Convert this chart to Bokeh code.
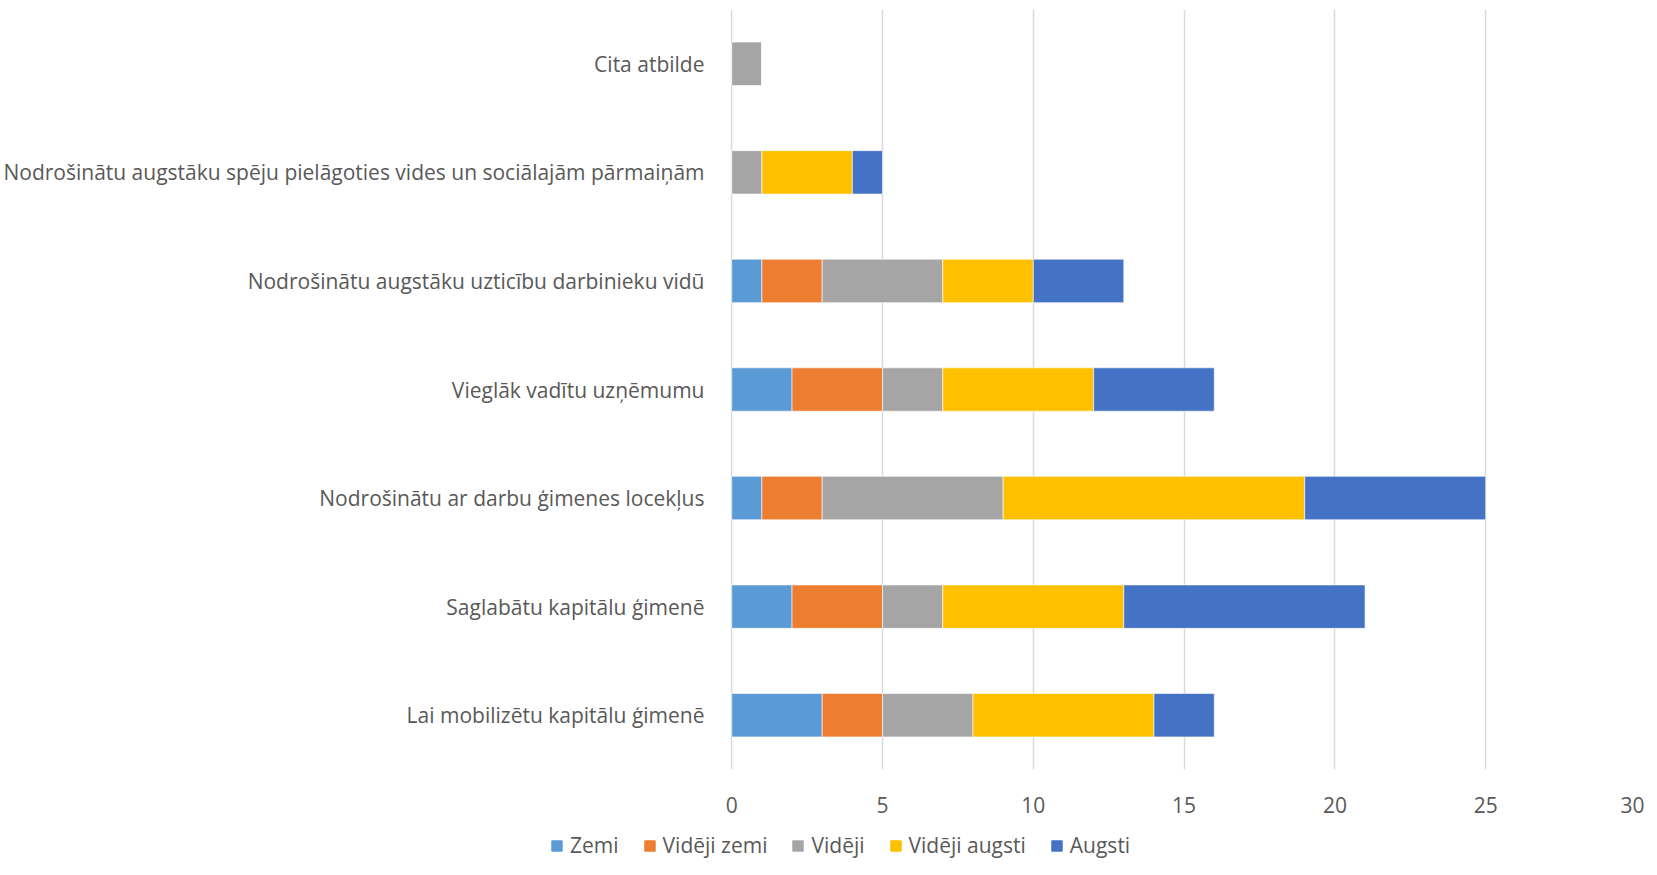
from bokeh.plotting import figure
from bokeh.models import ColumnDataSource, Legend, LegendItem, Range1d
from bokeh.layouts import column
from bokeh.embed import file_html
from bokeh.resources import INLINE

categories = [
    "Lai mobilizētu kapitālu ģimenē",
    "Saglabātu kapitālu ģimenē",
    "Nodrošinātu ar darbu ģimenes locekļus",
    "Vieglāk vadītu uzņēmumu",
    "Nodrošinātu augstāku uzticību darbinieku vidū",
    "Nodrošinātu augstāku spēju pielāgoties vides un sociālajām pārmaiņām",
    "Cita atbilde",
]
zemi = [3, 2, 1, 2, 1, 0, 0]
videji_zemi = [2, 3, 2, 3, 2, 0, 0]
videji = [3, 2, 6, 2, 4, 1, 1]
videji_augsti = [6, 6, 10, 5, 3, 3, 0]
augsti = [2, 8, 6, 4, 3, 1, 0]

series_names = ["Zemi", "Vidēji zemi", "Vidēji", "Vidēji augsti", "Augsti"]
series_keys = ["zemi", "videji_zemi", "videji", "videji_augsti", "augsti"]
colors = ["#5B9BD5", "#ED7D31", "#A5A5A5", "#FFC000", "#4472C4"]
x_ticks = [0, 5, 10, 15, 20, 25, 30]

source = ColumnDataSource(dict(
    cat=categories, zemi=zemi, videji_zemi=videji_zemi, videji=videji,
    videji_augsti=videji_augsti, augsti=augsti,
))

FONT = "Open Sans"
TXT = "#595959"
FS = "21px"

W = 1641
H1 = 830
H2 = 29

p = figure(
    y_range=categories, x_range=(-0.04, 30),
    width=W, height=H1,
    output_backend="svg", toolbar_location=None,
    min_border_left=727, min_border_right=8, min_border_top=9, min_border_bottom=61,
)
p.frame_width = 906
p.frame_height = 760

p.hbar_stack(series_keys, y="cat", height=0.4, color=colors,
             line_color="white", line_width=0.6, source=source)

p.xaxis.ticker = x_ticks
p.xaxis.axis_line_color = None
p.xaxis.major_tick_line_color = None
p.xaxis.minor_tick_line_color = None
p.xaxis.major_label_text_font = FONT
p.xaxis.major_label_text_font_size = FS
p.xaxis.major_label_text_color = TXT
p.xaxis.major_label_standoff = 21

p.yaxis.axis_line_color = None
p.yaxis.major_tick_line_color = None
p.yaxis.major_label_text_font = FONT
p.yaxis.major_label_text_font_size = FS
p.yaxis.major_label_text_color = TXT
p.yaxis.major_label_standoff = 20

p.ygrid.grid_line_color = None
p.xgrid.grid_line_color = "#D9D9D9"
p.xgrid.grid_line_width = 1.5
p.outline_line_color = None

# legend strip below the chart (zero-size swatch renderers only feed the legend)
q = figure(width=W, height=H2, output_backend="svg", toolbar_location=None,
           x_range=Range1d(0, W), y_range=Range1d(0, H2),
           min_border_left=0, min_border_right=0, min_border_top=0, min_border_bottom=0)
q.frame_width = W
q.frame_height = H2
q.axis.visible = False
q.grid.grid_line_color = None
q.outline_line_color = None
swatches = [q.hbar(y=[0], left=[0], right=[0], height=0, color=c) for c in colors]
items = [LegendItem(label=n, renderers=[r]) for n, r in zip(series_names, swatches)]
legend = Legend(items=items, orientation="horizontal", location=(550, 0),
                label_text_font=FONT, label_text_font_size=FS, label_text_color=TXT,
                glyph_width=13, glyph_height=13, label_standoff=7, spacing=24,
                padding=0, margin=0,
                border_line_color=None, background_fill_alpha=0)
q.add_layout(legend, "center")

layout = column(p, q, spacing=0)
open("out.html", "w").write(file_html(layout, INLINE))
